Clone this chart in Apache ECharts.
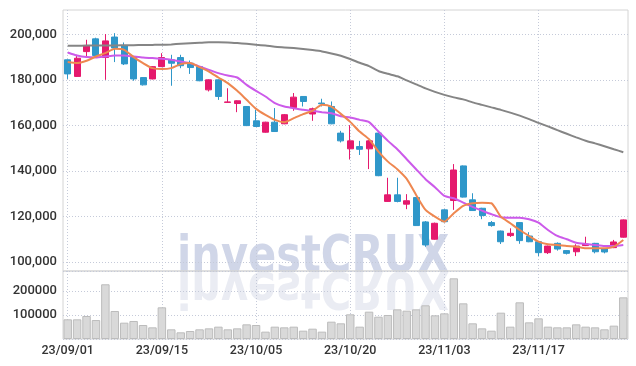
<!DOCTYPE html>
<html>
<head>
<meta charset="utf-8">
<script src="https://cdn.jsdelivr.net/npm/echarts@6/dist/echarts.min.js"></script>
<style>
html,body{margin:0;padding:0;background:#fff;}
#c{width:636px;height:366px;}
</style>
</head>
<body>
<div id="c"></div>
<script>
const dates = ['23/09/01','23/09/04','23/09/05','23/09/06','23/09/07','23/09/08','23/09/11','23/09/12','23/09/13','23/09/14',
'23/09/15','23/09/18','23/09/19','23/09/20','23/09/21','23/09/22','23/09/25','23/09/26','23/09/27','23/10/04',
'23/10/05','23/10/06','23/10/10','23/10/11','23/10/12','23/10/13','23/10/16','23/10/17','23/10/18','23/10/19',
'23/10/20','23/10/23','23/10/24','23/10/25','23/10/26','23/10/27','23/10/30','23/10/31','23/11/01','23/11/02',
'23/11/03','23/11/06','23/11/07','23/11/08','23/11/09','23/11/10','23/11/13','23/11/14','23/11/15','23/11/16',
'23/11/17','23/11/20','23/11/21','23/11/22','23/11/23','23/11/24','23/11/27','23/11/28','23/11/29','23/11/30'];

const open  = [188800,181500,192400,198000,189800,198800,195100,190000,181000,180400,
185800,188800,189800,187300,185800,175600,180000,170100,169600,168300,
162000,157000,161400,160700,167800,172700,165000,169800,168300,156600,
149700,150700,149700,156600,126600,129500,125400,128300,117600,110000,
122900,127000,142200,127300,123600,117300,113600,111600,117300,111400,
108900,104100,108200,105000,104500,107200,108200,105700,106300,110900];
const close = [182600,189500,195100,190700,197100,194000,187000,180400,177800,185800,
189800,187300,186200,185400,179600,180000,172700,170300,170800,159900,
159500,161400,157300,164700,172400,170500,167300,169500,160700,153200,
153200,149500,153200,137900,129500,126600,126900,116000,107500,117000,
117700,140400,128500,122600,120400,116000,108900,112600,109400,108900,
104100,107000,105700,103800,107000,107900,104500,104400,108800,118500];
const low   = [180400,181300,190000,190000,180000,187800,186500,179600,177500,180200,
185600,177400,185100,182600,179400,174900,171200,169900,165800,159700,
159300,156800,157100,160500,166400,168300,162000,168300,160500,152500,
145000,147000,140800,137700,126400,126200,123200,115800,106700,109800,
117500,122900,128300,122400,118800,115500,107900,111000,108000,108700,
102600,103500,105000,103300,102600,107000,103800,103800,106100,110700];
const high  = [189000,191000,197600,198500,200100,200500,196400,190500,181200,186000,
191700,191000,191000,188500,186000,180200,180200,176300,171000,168500,
166800,161600,167600,165000,174200,172900,167800,171700,170500,157600,
160100,153200,153500,156800,137000,137000,129800,128500,118000,117300,
123200,143000,142400,130200,123800,118000,113800,114800,117500,113100,
109100,107200,108600,105200,107800,111100,108400,105900,109700,118700];

const ma5  = [187790,187350,188360,190250,191750,193630,193190,189990,187350,185150,
184710,185150,186910,187350,185590,183660,181020,178560,175170,171220,
167260,164620,162420,161410,163170,164930,166380,169020,168270,165060,
161540,157280,153940,148490,144090,140750,136490,129450,122860,119910,
117720,121410,124620,125800,126070,125800,119910,117010,114070,111430,
108920,107780,107470,107030,106730,106020,106020,106020,106730,109670];
const ma20 = [192010,190690,189990,189810,190250,190690,190690,190250,189810,189550,
189240,188800,188050,187350,185850,184400,182950,181900,181020,177810,
175170,172670,169760,168270,167570,166820,166380,165810,165370,164050,
163430,162420,161410,157280,153190,149540,145150,140750,136350,132840,
129010,128000,126070,124180,122550,120970,119650,119470,119470,118770,
117280,114070,111430,109980,108480,107910,107470,107030,107030,107470];
const ma60 = [194950,195000,195040,195040,195090,195090,195170,195220,195310,195350,
195390,195570,195830,196050,196270,196490,196540,196450,196180,195830,
195390,195040,194560,194250,193940,193550,193060,192490,191610,190560,
189150,187480,186030,183880,182640,181550,179790,178030,176270,174730,
173410,172310,171430,170110,169010,167910,166820,165590,164270,162770,
161100,159560,157890,156310,154730,153280,152090,150860,149540,148220];

const volume = [82000,82000,95800,79000,228000,116700,68000,75000,58300,48600,
132000,40300,27800,33300,40300,44400,51400,40300,44400,61100,
58300,30600,51400,48600,51400,34700,43000,30600,72200,65300,
102800,51400,113900,93000,100000,123600,118000,123600,140300,98600,
106900,252800,148600,65300,44400,34700,109700,51400,152800,69400,
86100,51400,48600,48600,61100,51400,48600,40300,55600,173600];

const priceTicks = [100000,120000,140000,160000,180000,200000];
const volumeTicks = [100000,200000];

const candleData = open.map((o,i)=>[o, close[i], low[i], high[i]]);

const chart = echarts.init(document.getElementById('c'), null, {renderer:'canvas'});
const gridLine = {show:true, lineStyle:{color:'#c5cad9', type:[1,2], width:1}};
const labelFont = {fontFamily:'Roboto', fontSize:13, color:'#333', fontWeight:500};
const wmStyle = {text:'investCRUX', font:'bold 52px "DejaVu Sans"', verticalAlign:'bottom', align:'left'};

chart.setOption({
  animation:false,
  backgroundColor:'#fff',
  graphic:[
    {type:'text', x:177, y:284, z:-10, scaleX:0.8, originX:0, originY:0,
     style:Object.assign({fill:'#d0d6e8'}, wmStyle)},
    {type:'text', x:177, y:284, z:-10, scaleX:0.8, scaleY:-1, originX:0, originY:-12,
     style:Object.assign({fill:'#eaecf3'}, wmStyle)}
  ],
  grid:[
    {left:63, top:10, width:565, height:261, show:true, borderColor:'#d4d4d4', borderWidth:1, backgroundColor:'transparent'},
    {left:63, top:34.3, width:565, height:227.7},
    {left:63, top:271, width:565, height:68, show:true, borderColor:'#d4d4d4', borderWidth:1, backgroundColor:'transparent'}
  ],
  xAxis:[
    {type:'category', gridIndex:0, data:dates, boundaryGap:true,
     axisLine:{show:false}, axisTick:{show:false}, axisLabel:{show:false},
     splitLine:Object.assign({interval:9, alignWithLabel:true}, gridLine)},
    {type:'category', gridIndex:1, data:dates, boundaryGap:true, show:false},
    {type:'category', gridIndex:2, data:dates, boundaryGap:true,
     axisLine:{show:false}, axisTick:{show:false},
     axisLabel:{interval:9, margin:5, fontSize:12.5, fontFamily:'Roboto', color:'#333', fontWeight:500},
     splitLine:Object.assign({interval:9, alignWithLabel:true}, gridLine)}
  ],
  yAxis:[
    {type:'value', gridIndex:0, show:false, min:0, max:1},
    {type:'value', gridIndex:1, min:priceTicks[0], max:priceTicks[priceTicks.length-1], interval:20000,
     axisLine:{show:false}, axisTick:{show:false},
     axisLabel:Object.assign({margin:6, formatter:v=>priceTicks.includes(v)?v.toLocaleString('en-US'):''}, labelFont),
     splitLine:gridLine},
    {type:'value', gridIndex:2, min:0, max:283333, interval:100000,
     axisLine:{show:false}, axisTick:{show:false},
     axisLabel:Object.assign({margin:6, showMinLabel:false, showMaxLabel:false,
       formatter:v=>volumeTicks.includes(v)?String(v):''}, labelFont),
     splitLine:gridLine}
  ],
  series:[
    {type:'candlestick', xAxisIndex:1, yAxisIndex:1, data:candleData, barWidth:6.5, clip:false,
     itemStyle:{color:'#e5196d', color0:'#2f97c9', borderColor:'#e5196d', borderColor0:'#2f97c9', borderWidth:1}},
    {type:'line', xAxisIndex:1, yAxisIndex:1, data:ma60, symbol:'none', clip:false, smooth:0.2,
     lineStyle:{color:'#858585', width:2}},
    {type:'line', xAxisIndex:1, yAxisIndex:1, data:ma20, symbol:'none', clip:false, smooth:0.2,
     lineStyle:{color:'#cc5aea', width:2}},
    {type:'line', xAxisIndex:1, yAxisIndex:1, data:ma5, symbol:'none', clip:false, smooth:0.2,
     lineStyle:{color:'#ee8750', width:2}},
    {type:'bar', xAxisIndex:2, yAxisIndex:2, data:volume, barCategoryGap:'10%',
     itemStyle:{color:'#d9d9d9', borderColor:'#bcbcbc', borderWidth:1}}
  ]
});
</script>
</body>
</html>
